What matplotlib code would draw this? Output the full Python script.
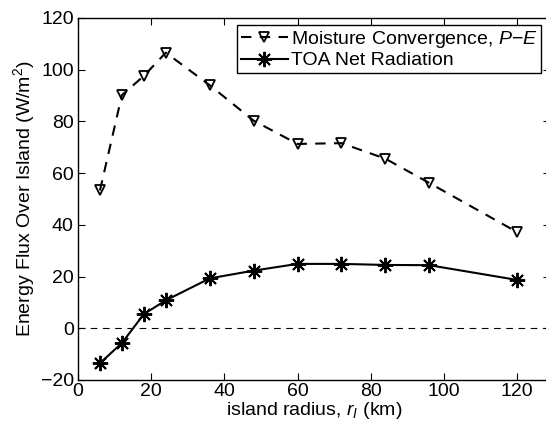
import matplotlib
matplotlib.use("Agg")
import matplotlib.pyplot as plt

plt.rcParams['font.family'] = ['Liberation Sans', 'DejaVu Sans']
plt.rcParams['mathtext.fontset'] = 'custom'
plt.rcParams['mathtext.rm'] = 'Liberation Sans'
plt.rcParams['mathtext.it'] = 'Liberation Sans:italic'

# island radius (km)
radius = [6, 12, 18, 24, 36, 48, 60, 72, 84, 96, 120]
# moisture convergence P-E (W/m^2)
moisture = [53.3, 90.2, 97.6, 106.6, 94.0, 80.3, 71.3, 71.6, 65.6, 56.2, 37.2]
# TOA net radiation (W/m^2)
toa = [-13.5, -5.7, 5.5, 10.8, 19.3, 22.3, 24.9, 24.9, 24.5, 24.4, 18.7]

x_ticks = [0, 20, 40, 60, 80, 100, 120]
y_ticks = [-20, 0, 20, 40, 60, 80, 100, 120]

fig = plt.figure(figsize=(5.46, 4.34), dpi=100)
ax = fig.add_axes([78 / 546, 54 / 434, 472 / 546, 362 / 434])

ax.axhline(0, color='k', linestyle=(0, (6, 5)), linewidth=0.8)
ax.plot(radius, moisture, color='k', linestyle=(0, (5, 4)), linewidth=1.5,
        marker='v', markersize=7.5, markerfacecolor='none', markeredgewidth=1.3,
        label='Moisture Convergence, $P$\u2212$E$')
ax.plot(radius, toa, color='k', linestyle='-', linewidth=1.5,
        marker=(8, 2, 0), markersize=11, markeredgewidth=1.4,
        label='TOA Net Radiation')

ax.set_xlim(0, 129)
ax.set_ylim(-20, 120)
ax.set_xticks(x_ticks)
ax.set_yticks(y_ticks)
ax.set_yticklabels(['\u221220' if v < 0 else str(v) for v in y_ticks])
ax.tick_params(direction='in', top=True, right=True, length=5, width=0.8,
               labelsize=14)
ax.tick_params(axis='x', pad=2)
ax.tick_params(axis='y', pad=3)
for s in ax.spines.values():
    s.set_linewidth(1.0)

ax.set_xlabel('island radius, $r_I$ (km)', fontsize=14, labelpad=0)
ax.set_ylabel('Energy Flux Over Island (W/m$^2$)', fontsize=14, labelpad=3)

leg = ax.legend(loc='upper right', fontsize=14, fancybox=False,
                edgecolor='k', framealpha=1, borderpad=0.2,
                handlelength=2.4, handletextpad=0.15, labelspacing=0.1,
                borderaxespad=0, bbox_to_anchor=(541 / 546, 409 / 434),
                bbox_transform=fig.transFigure)
leg.get_frame().set_linewidth(1.0)

fig.savefig('out.png', dpi=100)
